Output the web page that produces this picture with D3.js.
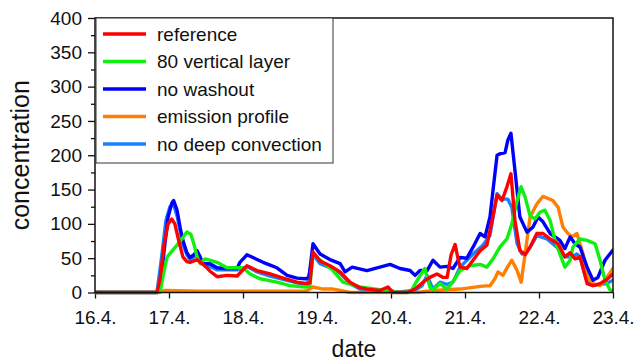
<!DOCTYPE html>
<html>
<head>
<meta charset="utf-8">
<script src="https://cdn.jsdelivr.net/npm/d3@7"></script>
<style>
  body { margin: 0; background: #fff; }
  svg text { font-family: "Liberation Sans", Arial, sans-serif; fill: #111; }
</style>
</head>
<body>
<svg id="chart" width="639" height="364"></svg>
<script>
// time = hours since 16.4. 00:00, value = concentration
const dayTicks = [0, 24, 48, 72, 96, 120, 144, 168];
const dayLabels = ['16.4.', '17.4.', '18.4.', '19.4.', '20.4.', '21.4.', '22.4.', '23.4.'];
const yMajor = [0, 50, 100, 150, 200, 250, 300, 350, 400];
const yMinor = [25, 75, 125, 175, 225, 275, 325, 375];

const reference = [[0,0],[20.1,0],[21.1,20],[22.4,70],[23.7,100],[24.9,107],[25.9,100],[27.2,75],[28.5,52],[29.8,45],[30.8,44],[33.1,48],[35.0,41],[36.3,36],[37.3,31],[39.6,23],[42.8,25],[46.1,24],[48.0,33],[49.3,39],[52.5,32],[56.8,27],[61.0,21],[65.5,15],[68.8,13],[69.7,14],[70.7,59],[73.0,46],[76.2,39],[79.5,30],[82.7,15],[85.9,7],[88.2,5],[92.4,3],[95.0,8],[96.6,0],[101.2,0],[103.8,5],[106.4,15],[108.6,22],[110.9,27],[112.9,22],[114.2,22],[115.5,55],[116.8,70],[117.7,50],[118.4,37],[120.6,35],[122.6,47],[124.9,61],[127.1,69],[128.8,105],[130.4,142],[132.0,134],[133.6,154],[134.9,173],[136.2,105],[137.8,61],[139.5,55],[141.1,66],[143.3,86],[145.3,86],[147.6,78],[150.2,71],[152.4,52],[154.1,58],[155.7,49],[157.3,52],[159.6,13],[161.5,10],[163.8,13],[166.0,19],[168,27]];

const verticalLayer80 = [[0,0],[21.1,0],[22.1,25],[23.4,52],[26.6,69],[28.5,80],[29.8,88],[31.1,85],[32.1,70],[33.1,52],[34.1,42],[35.7,49],[39.6,44],[42.8,36],[48.0,36],[50.3,27],[53.5,20],[59.0,15],[63.2,10],[68.1,8],[69.7,9],[70.7,56],[73.9,44],[77.2,32],[80.4,15],[85.9,8],[92.4,4],[95.0,5],[97.9,0],[102.2,0],[104.8,20],[107.0,35],[108.6,8],[109.6,4],[111.9,13],[114.2,5],[116.1,16],[118.4,32],[121.6,39],[124.9,41],[127.1,37],[129.1,49],[131.3,66],[133.6,78],[135.2,100],[136.9,134],[138.2,154],[139.5,139],[141.1,112],[142.7,107],[144.3,117],[145.9,120],[147.6,105],[149.2,76],[150.8,56],[152.4,37],[154.1,47],[155.0,66],[157.3,78],[159.6,76],[162.2,71],[163.8,47],[165.4,18],[167.0,4],[168,2]];

const noWashout = [[0,0],[20.1,0],[21.1,5],[22.4,60],[23.7,110],[24.9,130],[25.5,134],[26.6,120],[27.6,95],[28.5,76],[29.8,58],[30.8,51],[32.1,55],[33.1,61],[34.1,52],[35.0,42],[37.3,42],[39.6,36],[42.2,35],[46.1,35],[47.0,44],[49.3,55],[51.2,51],[54.5,44],[56.8,40],[59.0,36],[62.3,25],[65.5,21],[68.1,20],[69.4,22],[70.7,71],[73.0,56],[76.2,48],[79.5,42],[81.1,30],[83.4,37],[88.2,32],[92.4,37],[95.7,41],[98.9,35],[102.2,32],[103.8,25],[105.4,32],[107.7,32],[109.6,47],[111.9,37],[114.2,38],[116.1,35],[118.4,51],[120.6,50],[122.6,66],[124.9,86],[126.5,81],[128.1,110],[129.7,173],[130.4,200],[131.3,202],[133.0,204],[133.9,222],[134.9,232],[136.2,178],[137.8,110],[140.1,88],[142.0,95],[143.7,110],[145.3,103],[147.6,86],[150.8,76],[152.4,64],[154.1,81],[155.7,71],[157.3,66],[159.6,37],[161.5,18],[163.1,22],[165.4,47],[168,62]];

const emissionProfile = [[0,0],[20.4,0],[22.7,3],[34.1,2],[50.3,2],[68.1,2],[68.8,3],[70.7,8],[73.9,5],[77.2,5],[79.5,3],[82.7,0],[104.4,0],[109.6,3],[118.4,5],[124.9,9],[128.1,10],[129.7,20],[130.7,30],[132.3,25],[133.9,38],[135.2,47],[136.9,32],[138.2,15],[139.5,56],[141.1,110],[143.3,129],[145.3,140],[148.5,134],[150.2,124],[151.8,95],[153.4,86],[154.7,81],[156.3,86],[158.3,56],[159.9,22],[161.5,13],[163.8,10],[166.0,22],[168,35]];

const noDeepConvection = [[0,0],[20.1,0],[21.7,55],[23.0,105],[24.3,125],[25.5,128],[26.6,112],[27.6,90],[28.5,70],[29.8,55],[30.8,48],[33.1,55],[35.0,42],[37.3,38],[39.6,33],[46.1,33],[48.0,35],[49.3,38],[52.5,30],[56.8,24],[61.0,19],[65.5,14],[68.8,12],[70.7,55],[73.0,42],[76.2,36],[79.5,28],[82.7,13],[85.9,5],[92.4,2],[95.0,6],[96.6,0],[103.8,3],[106.1,10],[107.7,25],[109.6,5],[111.9,15],[114.2,12],[116.1,15],[118.4,37],[122.6,56],[125.8,69],[128.1,83],[130.4,144],[132.0,136],[133.9,136],[135.2,124],[136.9,71],[138.5,56],[141.1,66],[143.3,83],[146.6,78],[149.8,66],[152.4,52],[154.7,52],[156.3,56],[157.3,52],[159.6,16],[161.5,10],[163.8,12],[166.0,13],[168,18]];

// legend order
const series = [
  { name: 'reference', color: '#ff0000', values: reference },
  { name: '80 vertical layer', color: '#10f010', values: verticalLayer80 },
  { name: 'no washout', color: '#0000ff', values: noWashout },
  { name: 'emission profile', color: '#ff8000', values: emissionProfile },
  { name: 'no deep convection', color: '#1a80ff', values: noDeepConvection }
];
// drawing order (bottom to top)
const drawOrder = ['no deep convection', 'emission profile', 'no washout', '80 vertical layer', 'reference'];

const margin = { top: 18, right: 26, bottom: 71.5, left: 95 };
const width = 639 - margin.left - margin.right;
const height = 364 - margin.top - margin.bottom;

const svg = d3.select('#chart');
const g = svg.append('g').attr('transform', 'translate(' + margin.left + ',' + margin.top + ')');

const x = d3.scaleLinear().domain([0, 168]).range([0, width]);
const y = d3.scaleLinear().domain([0, 400]).range([height, 0]);

g.append('defs').append('clipPath')
  .attr('id', 'clip')
  .append('rect')
  .attr('x', 0).attr('y', -2)
  .attr('width', width).attr('height', height + 4);

// y axis, major + minor ticks
g.append('g')
  .call(d3.axisLeft(y).tickValues(yMajor).tickSize(7).tickPadding(6).tickFormat(d3.format('d')));
g.append('g')
  .call(d3.axisLeft(y).tickValues(yMinor).tickSize(4).tickFormat(''))
  .select('.domain').remove();

// x axis
g.append('g')
  .attr('transform', 'translate(0,' + height + ')')
  .call(d3.axisBottom(x).tickValues(dayTicks).tickSize(6).tickPadding(12)
    .tickFormat((d, i) => dayLabels[i]));

g.selectAll('.domain').remove();
g.selectAll('.tick line').attr('stroke', '#111').attr('stroke-width', 1.3);
g.selectAll('.tick text')
  .style('font-family', '"Liberation Sans", Arial, sans-serif')
  .style('font-size', '19px')
  .attr('fill', '#111');

const line = d3.line()
  .x((d) => x(d[0]))
  .y((d) => y(d[1]));

const linesG = g.append('g').attr('clip-path', 'url(#clip)');
drawOrder.forEach((name) => {
  const s = series.find((e) => e.name === name);
  linesG.append('path')
    .datum(s.values)
    .attr('fill', 'none')
    .attr('stroke', s.color)
    .attr('stroke-width', 3.4)
    .attr('stroke-linejoin', 'round')
    .attr('stroke-linecap', 'round')
    .attr('d', line);
});

// frame
g.append('rect')
  .attr('x', 0).attr('y', 0)
  .attr('width', width).attr('height', height)
  .attr('fill', 'none')
  .attr('stroke', '#111')
  .attr('stroke-width', 1.5);

// legend
const legend = g.append('g').attr('transform', 'translate(1,0)');
legend.append('rect')
  .attr('x', 0).attr('y', 0)
  .attr('width', 237).attr('height', 145)
  .attr('fill', '#fff')
  .attr('stroke', '#333')
  .attr('stroke-width', 1);
const items = legend.selectAll('.legenditem')
  .data(series)
  .enter().append('g')
  .attr('class', 'legenditem')
  .attr('transform', (d, i) => 'translate(0,' + (16 + i * 27.5) + ')');
items.append('line')
  .attr('x1', 7).attr('x2', 50)
  .attr('stroke', (d) => d.color)
  .attr('stroke-width', 3.4);
items.append('text')
  .attr('x', 61).attr('y', 6.5)
  .style('font-size', '19px')
  .text((d) => d.name);

// axis titles
svg.append('text')
  .attr('x', margin.left + width / 2)
  .attr('y', 357)
  .attr('text-anchor', 'middle')
  .style('font-size', '23px')
  .text('date');

svg.append('text')
  .attr('transform', 'translate(29,' + (margin.top + height / 2) + ') rotate(-90)')
  .attr('text-anchor', 'middle')
  .style('font-size', '25px')
  .text('concentration');
</script>
</body>
</html>
